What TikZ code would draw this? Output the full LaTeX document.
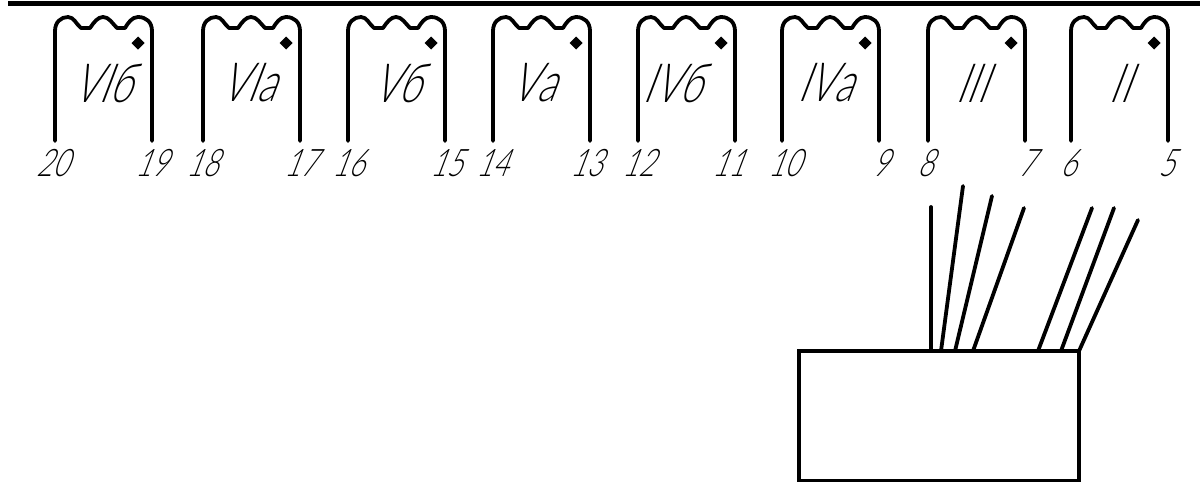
\documentclass[tikz,border=0pt]{standalone}
\usepackage{fontspec}
\usetikzlibrary{shapes.geometric}
\newfontfamily\gost[FakeSlant=0.38,FakeStretch=0.72]{Lato Light}
\tikzset{
  x=1pt,y=-1pt,
  wire/.style={line width=3.8pt,line cap=round,line join=round,black},
  dotmark/.style={diamond,fill=black,inner sep=0pt,outer sep=0pt,minimum size=13pt},
  numlabel/.style={font=\gost\fontsize{38}{38}\selectfont,inner sep=0pt,text=black},
  windlabel/.style={font=\gost\fontsize{54}{54}\selectfont,inner sep=0pt,text=black},
  boxshape/.style={draw,line width=3.8pt,minimum width=280pt,minimum height=130pt,inner sep=0pt,outer sep=0pt,anchor=center},
}
% left x, name centre x, name, left num, x, right num, x
\newcommand{\winding}[7]{%
  \draw[wire] (#1,141) -- (#1,31) .. controls (#1,22) and (#1+6,17) .. (#1+13,17)
      .. controls (#1+19,17) and (#1+21,24) .. (#1+26,28) -- (#1+35,28)
      .. controls (#1+39,22) and (#1+43,17) .. (#1+48,17)
      .. controls (#1+54,17) and (#1+57,23) .. (#1+62,28) -- (#1+70,28)
      .. controls (#1+73,23) and (#1+77,17) .. (#1+83,17)
      .. controls (#1+91,17) and (#1+97,22) .. (#1+97,31) -- (#1+97,141);
  \node[dotmark] (d#1) at (#1+83,43) {};
  \node[windlabel] (w#1) at (#2-6,83) {#3};
  \node[numlabel] (a#1) at (#5-2,163) {#4};
  \node[numlabel] (b#1) at (#7-2,163) {#6};
}
\begin{document}
\begin{tikzpicture}
\useasboundingbox (0,0) rectangle (1200,482);
\coordinate (topa) at (8,3.5);
\coordinate (topb) at (1200,3.5);
\draw[line width=4.5pt] (topa) -- (topb);
\winding{55}{108}{VIб}{20}{54}{19}{153}
\winding{203}{254}{VIа}{18}{204}{17}{302}
\winding{348}{402}{Vб}{16}{350}{15}{448}
\winding{493}{539}{Vа}{14}{494}{13}{588}
\winding{638}{678}{IVб}{12}{640}{11}{730}
\winding{782}{831}{IVа}{10}{786}{9}{882}
\winding{928}{977}{III}{8}{927}{7}{1028}
\winding{1071}{1125}{II}{6}{1070}{5}{1168}
\node[boxshape] (tr) at (939,416) {};
\foreach \n/\tx/\ty/\bx in {1/931/207/931,2/963/186/941,3/992/196/955,4/1024/208/973,5/1092/208/1038,6/1114/208/1061,7/1138/220/1079}{
  \coordinate (e\n) at (\tx,\ty);
  \coordinate (s\n) at (\bx,351);
  \draw[wire] (s\n) -- (e\n);
}
\end{tikzpicture}
\end{document}
